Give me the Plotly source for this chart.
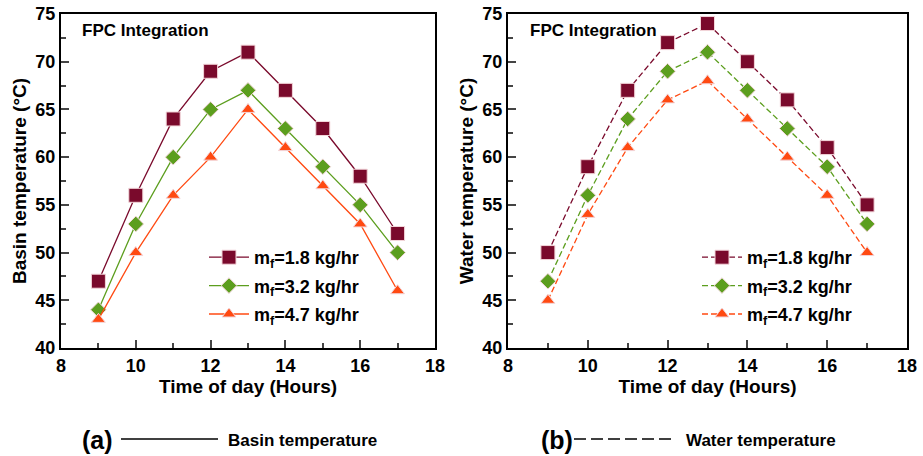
import plotly.graph_objects as go

# Time of day (hours)
hours = [9, 10, 11, 12, 13, 14, 15, 16, 17]

# (a) Basin temperature (°C)
basin_18 = [47, 56, 64, 69, 71, 67, 63, 58, 52]
basin_32 = [44, 53, 60, 65, 67, 63, 59, 55, 50]
basin_47 = [43, 50, 56, 60, 65, 61, 57, 53, 46]

# (b) Water temperature (°C)
water_18 = [50, 59, 67, 72, 74, 70, 66, 61, 55]
water_32 = [47, 56, 64, 69, 71, 67, 63, 59, 53]
water_47 = [45, 54, 61, 66, 68, 64, 60, 56, 50]

series_names = ["m<sub>f</sub>=1.8 kg/hr", "m<sub>f</sub>=3.2 kg/hr", "m<sub>f</sub>=4.7 kg/hr"]
colors = ["#7a0a2c", "#5c9e1e", "#ff4a12"]
symbols = ["square", "diamond", "triangle-up"]
sizes = [14, 12, 12]

FONT = "Liberation Sans, Arial, sans-serif"

fig = go.Figure()

# left panel: solid lines
for i, (vals, name, c, s, sz) in enumerate(zip([basin_18, basin_32, basin_47], series_names, colors, symbols, sizes)):
    fig.add_trace(go.Scatter(
        x=hours, y=vals, name=name, mode="lines+markers", legendgroup=f"a{i}",
        line=dict(color=c, width=1.3),
        marker=dict(symbol=s, size=sz, color=c, line=dict(color="#f3d6da", width=1)),
        xaxis="x", yaxis="y", legend="legend",
    ))

# right panel: dashed lines
for i, (vals, name, c, s, sz) in enumerate(zip([water_18, water_32, water_47], series_names, colors, symbols, sizes)):
    fig.add_trace(go.Scatter(
        x=hours, y=vals, name=name, mode="lines+markers", legendgroup=f"b{i}",
        line=dict(color=c, width=1.3, dash="6px,3px"),
        marker=dict(symbol=s, size=sz, color=c, line=dict(color="#f3d6da", width=1)),
        xaxis="x2", yaxis="y2", legend="legend2",
    ))

W, H = 923, 456
x1 = [61 / W, 435 / W]
x2 = [508 / W, 907 / W]
ydom = [1 - 348 / H, 1 - 14 / H]

tickfont = dict(size=18, family=FONT, color="black", weight="bold")
titlefont = dict(size=19, family=FONT, color="black", weight="bold")

xax = dict(
    range=[8, 18], tickvals=[8, 10, 12, 14, 16, 18], ticks="inside", ticklen=8, tickwidth=2,
    minor=dict(dtick=1, ticks="inside", ticklen=5, tickwidth=2, tick0=8),
    showline=True, linecolor="black", linewidth=2, mirror=True, showgrid=False, zeroline=False,
    tickfont=tickfont, automargin=False,
    title=dict(text="Time of day (Hours)", font=titlefont, standoff=4),
)
yax = dict(
    range=[40, 75], tickvals=[40, 45, 50, 55, 60, 65, 70, 75], ticks="inside", ticklen=8, tickwidth=2,
    minor=dict(dtick=2.5, ticks="inside", ticklen=5, tickwidth=2, tick0=40),
    showline=True, linecolor="black", linewidth=2, mirror=True, showgrid=False, zeroline=False,
    tickfont=tickfont, automargin=False,
    domain=ydom,
)

legend_common = dict(
    font=dict(size=18, family=FONT, color="black", weight="bold"), bgcolor="rgba(0,0,0,0)",
    tracegroupgap=2, itemwidth=40, xanchor="left", yanchor="top",
)

fig.update_layout(
    width=W, height=H, margin=dict(l=0, r=0, t=0, b=0, autoexpand=False),
    paper_bgcolor="white", plot_bgcolor="white",
    font=dict(family=FONT, color="black"),
    xaxis=dict(xax, domain=x1, anchor="y"),
    yaxis=dict(yax, anchor="x", title=dict(text="Basin temperature (°C)", font=titlefont, standoff=4)),
    xaxis2=dict(xax, domain=x2, anchor="y2"),
    yaxis2=dict(yax, anchor="x2", title=dict(text="Water temperature (°C)", font=titlefont, standoff=4)),
    legend=dict(legend_common, x=204 / W, y=1 - 239 / H),
    legend2=dict(legend_common, x=697 / W, y=1 - 239 / H),
    showlegend=True,
)

# panel titles inside plots
for xr, yr in [("x", "y"), ("x2", "y2")]:
    fig.add_annotation(x=0.05, y=0.985, xref=f"{xr} domain", yref=f"{yr} domain",
                       text="<b>FPC Integration</b>", showarrow=False, xanchor="left", yanchor="top",
                       font=dict(size=17, family=FONT, color="black"))

# bottom captions
cap_y = 1 - 440 / H
line_y = 1 - 439 / H
fig.add_annotation(x=97 / W, y=cap_y, xref="paper", yref="paper", text="<b>(a)</b>",
                   showarrow=False, xanchor="center", yanchor="middle",
                   font=dict(size=25, family=FONT, color="black"))
fig.add_shape(type="line", xref="paper", yref="paper", x0=121 / W, x1=218 / W,
              y0=line_y, y1=line_y, line=dict(color="black", width=1.3))
fig.add_annotation(x=226 / W, y=cap_y, xref="paper", yref="paper", text="<b>Basin temperature</b>",
                   showarrow=False, xanchor="left", yanchor="middle",
                   font=dict(size=17, family=FONT, color="black"))

fig.add_annotation(x=557 / W, y=cap_y, xref="paper", yref="paper", text="<b>(b)</b>",
                   showarrow=False, xanchor="center", yanchor="middle",
                   font=dict(size=25, family=FONT, color="black"))
fig.add_shape(type="line", xref="paper", yref="paper", x0=574 / W, x1=676 / W,
              y0=line_y, y1=line_y, line=dict(color="black", width=1.3, dash="12px,5px"))
fig.add_annotation(x=684 / W, y=cap_y, xref="paper", yref="paper", text="<b>Water temperature</b>",
                   showarrow=False, xanchor="left", yanchor="middle",
                   font=dict(size=17, family=FONT, color="black"))

# drop the default page margin so the figure sits at the window origin
fig.write_html("out.html", config={"displayModeBar": False},
               post_script="document.body.style.margin='0';")
